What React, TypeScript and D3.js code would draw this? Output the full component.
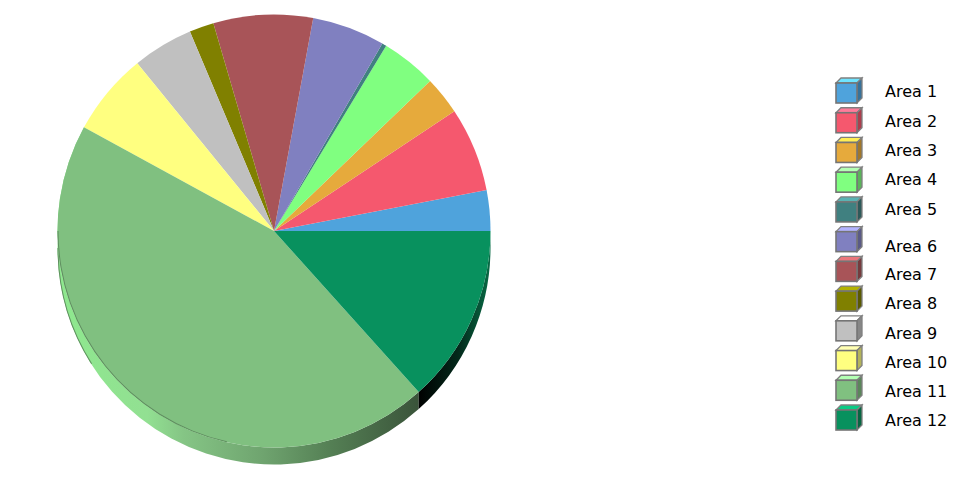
import React from 'react';
import * as d3 from 'd3';

const areaNames = ['Area 1', 'Area 2', 'Area 3', 'Area 4', 'Area 5', 'Area 6', 'Area 7', 'Area 8', 'Area 9', 'Area 10', 'Area 11', 'Area 12'];
const areaValues = [3.03, 6.3, 2.86, 4.14, 0.33, 5.44, 7.42, 1.83, 4.53, 6.17, 44.6, 13.35];
const areaColors = ['#4fa3dc', '#f5586e', '#e6aa3c', '#80ff80', '#408080', '#8080c0', '#a85458', '#808000', '#c0c0c0', '#ffff80', '#80c080', '#08915e'];

// legend text does not sit on an even grid in the original
const labelBaselines = [97, 127, 156, 185, 215, 252, 280, 309, 339, 368, 397, 426];

const width = 977;
const height = 480;
const cx = 274;
const cy = 231;
const radius = 216.5;
const depth = 17;

const scaleColor = (hex: string, k: number) => {
  const c = d3.rgb(hex);
  return d3.rgb(Math.min(255, c.r * k), Math.min(255, c.g * k), Math.min(255, c.b * k)).formatHex();
};

// outer wall of a slice: top edge arc, down by depth, bottom edge arc back
const sideWall = (a0: number, a1: number) => {
  const p = d3.path();
  const s0 = a0 - Math.PI / 2;
  const s1 = a1 - Math.PI / 2;
  p.moveTo(radius * Math.cos(s0), radius * Math.sin(s0));
  p.arc(0, 0, radius, s0, s1, a1 < a0);
  p.lineTo(radius * Math.cos(s1), radius * Math.sin(s1) + depth);
  p.arc(0, depth, radius, s1, s0, a1 > a0);
  p.closePath();
  return p.toString();
};

const App: React.FC = () => {
  const pie = d3.pie<number>().sort(null).startAngle(Math.PI / 2).endAngle(Math.PI / 2 - 2 * Math.PI);
  const arcs = pie(areaValues);
  const arc = d3.arc<d3.PieArcDatum<number>>().innerRadius(0).outerRadius(radius);

  const thinArc = d3.arc<{ startAngle: number; endAngle: number }>().innerRadius(radius - 1).outerRadius(radius);
  // rim line along the lower left edge of the big slice
  const rim = thinArc({ startAngle: -Math.PI / 2, endAngle: -Math.PI * 0.93 }) as string;
  // dark outer edge of the wall on the far left
  const outerRim = thinArc({ startAngle: -Math.PI / 2, endAngle: -Math.PI * 0.68 }) as string;

  const boxY = d3.scaleLinear().domain([0, areaNames.length - 1]).range([83, 410]);

  return (
    <svg width={width} height={height} style={{ position: 'absolute', left: 0, top: 0 }}>
      <defs>
        <linearGradient id="side-11" gradientUnits="userSpaceOnUse" x1={57 - cx} x2={418 - cx} y1={0} y2={0}>
          <stop offset="0%" stopColor="#8ee88e" />
          <stop offset="25%" stopColor="#92e092" />
          <stop offset="35%" stopColor="#85c585" />
          <stop offset="57%" stopColor="#6fa46f" />
          <stop offset="76%" stopColor="#547f54" />
          <stop offset="100%" stopColor="#3a543a" />
        </linearGradient>
        <linearGradient id="side-12" gradientUnits="userSpaceOnUse" x1={418 - cx} x2={490 - cx} y1={0} y2={0}>
          <stop offset="0%" stopColor="#000000" />
          <stop offset="55%" stopColor="#03281a" />
          <stop offset="100%" stopColor="#086a45" />
        </linearGradient>
      </defs>

      <g transform={`translate(${cx},${cy})`}>
        <path d={sideWall(arcs[10].startAngle, arcs[10].endAngle)} fill="url(#side-11)" />
        <path d={sideWall(arcs[11].startAngle, arcs[11].endAngle)} fill="url(#side-12)" />
        <path d={outerRim} transform={`translate(0,${depth})`} fill="#5f8f5f" />
      </g>

      <g transform={`translate(${cx},${cy})`}>
        {arcs.map((d, i) => (
          <path key={areaNames[i]} d={arc(d) as string} fill={areaColors[i]} />
        ))}
        <path d={rim} fill="#5f8f5f" />
      </g>

      <g>
        {areaNames.map((name, i) => {
          const y = boxY(i);
          const x = 836;
          const w = 21;
          const h = 20;
          const off = 5;
          const col = areaColors[i];
          return (
            <g key={name}>
              <polygon
                points={`${x},${y} ${x + off},${y - off} ${x + w + off},${y - off} ${x + w},${y}`}
                fill={scaleColor(col, 1.4)}
                stroke="#808080"
                strokeWidth={1.3}
              />
              <polygon
                points={`${x + w},${y} ${x + w + off},${y - off} ${x + w + off},${y + h - off} ${x + w},${y + h}`}
                fill={scaleColor(col, 0.7)}
                stroke="#808080"
                strokeWidth={1.3}
              />
              <rect x={x} y={y} width={w} height={h} fill={col} stroke="#757575" strokeWidth={1.6} />
              <text x={885} y={labelBaselines[i]} fontFamily="DejaVu Sans" fontSize={16} fill="#000">
                {name}
              </text>
            </g>
          );
        })}
      </g>
    </svg>
  );
};

export default App;
